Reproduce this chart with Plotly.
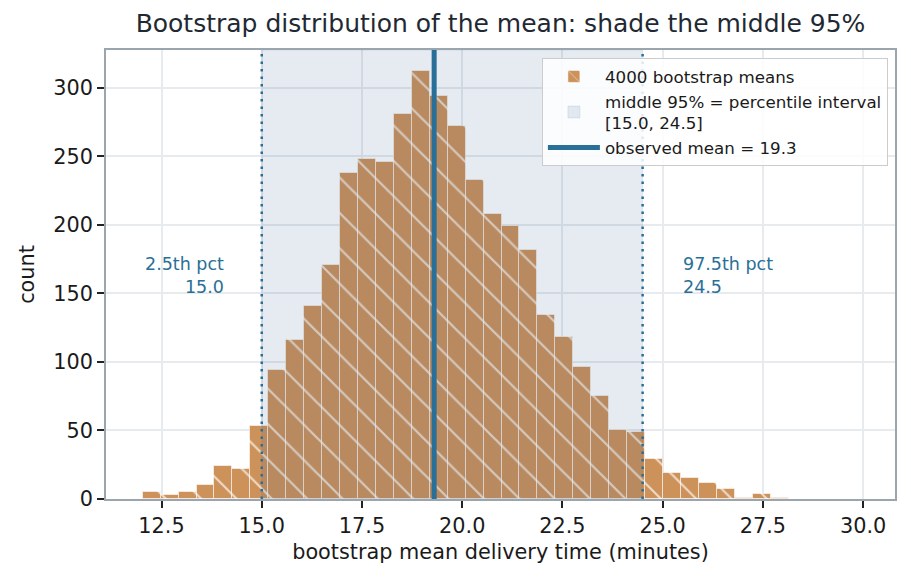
import plotly.graph_objects as go

# ---- data ----
bin_start = 12.03
bin_width = 0.4475
counts = [5, 3, 5, 10, 24, 22, 53, 94, 116, 141,
          171, 238, 248, 246, 281, 312, 294, 272, 233, 208,
          199, 182, 134, 118, 96, 75, 50, 49, 29, 19,
          15, 12, 7, 1, 4, 1, 0, 0, 0, 0]
ci_low = 15.0
ci_high = 24.5
observed_mean = 19.3
n_boot = 4000
x_ticks = [12.5, 15.0, 17.5, 20.0, 22.5, 25.0, 27.5, 30.0]
y_ticks = [0, 50, 100, 150, 200, 250, 300]

centers = [bin_start + bin_width * (i + 0.5) for i in range(len(counts))]

FONT = "DejaVu Sans"
BLUE = "#2a6f97"
ORANGE = "#cd915a"

fig = go.Figure()
fig.add_trace(go.Bar(
    x=centers, y=counts, width=[bin_width] * len(counts),
    name=f"{n_boot} bootstrap means",
    marker=dict(color=ORANGE,
                line=dict(color="rgba(255,255,255,0.55)", width=1),
                pattern=dict(shape="\\", fgcolor="white", fgopacity=0.65,
                             size=25, solidity=0.09)),
    legendrank=1,
))

x_lo, x_hi = 11.115, 30.795
y_top = max(counts) * 1.05

# shaded middle 95%
fig.add_shape(type="rect", xref="x", yref="y", x0=ci_low, x1=ci_high, y0=0, y1=y_top,
              fillcolor="rgba(40,90,140,0.12)", line=dict(width=1, color="rgba(40,90,140,0.10)"),
              layer="above", showlegend=True, legendrank=2,
              name=f"middle 95% = percentile interval<br>[{ci_low:.1f}, {ci_high:.1f}]")
# percentile lines
for v in (ci_low, ci_high):
    fig.add_shape(type="line", xref="x", yref="y", x0=v, x1=v, y0=0, y1=y_top,
                  line=dict(color=BLUE, width=2.5, dash="2.5px,5px"), layer="above")
# observed mean
fig.add_shape(type="line", xref="x", yref="y", x0=observed_mean, x1=observed_mean, y0=0, y1=y_top,
              line=dict(color=BLUE, width=5), layer="above",
              showlegend=True, legendrank=3, name=f"observed mean = {observed_mean:.1f}")

fig.add_annotation(x=ci_low, y=163, xref="x", yref="y", xanchor="right", yanchor="middle",
                   xshift=-36, text=f"2.5th pct<br>{ci_low:.1f}", showarrow=False, align="right",
                   font=dict(family=FONT, size=17.5, color=BLUE))
fig.add_annotation(x=ci_high, y=163, xref="x", yref="y", xanchor="left", yanchor="middle",
                   xshift=38, text=f"97.5th pct<br>{ci_high:.1f}", showarrow=False, align="left",
                   font=dict(family=FONT, size=17.5, color=BLUE))

axis_common = dict(
    showline=True, linecolor="#9ba5ae", linewidth=1.6, mirror=True,
    showgrid=True, gridcolor="#e8ebee", gridwidth=1.5,
    ticks="outside", ticklen=7, tickwidth=1.7, tickcolor="#222222",
    tickfont=dict(family=FONT, size=20.8, color="#1a1a1a"),
    zeroline=False,
)
fig.update_xaxes(range=[x_lo, x_hi], tickvals=x_ticks, tickformat=".1f",
                 title=dict(text="bootstrap mean delivery time (minutes)",
                            font=dict(family=FONT, size=20.8, color="#1a1a1a"), standoff=8),
                 **axis_common)
fig.update_yaxes(range=[0, y_top], tickvals=y_ticks,
                 title=dict(text="count", font=dict(family=FONT, size=20.8, color="#1a1a1a"), standoff=13),
                 **axis_common)

fig.update_layout(
    width=911, height=584,
    margin=dict(l=106, r=16, t=50, b=85),
    paper_bgcolor="white", plot_bgcolor="white",
    font=dict(family=FONT, color="#1a1a1a"),
    bargap=0,
    title=dict(text="Bootstrap distribution of the mean: shade the middle 95%",
               x=0.5, xref="paper", xanchor="center", y=1 - 23 / 584, yref="container",
               yanchor="middle", font=dict(family=FONT, size=25, color="#1f2933")),
    legend=dict(x=0.991, y=0.982, xanchor="right", yanchor="top",
                bgcolor="rgba(255,255,255,0.85)", bordercolor="#cccccc", borderwidth=1,
                font=dict(family=FONT, size=16.7, color="#1a1a1a"),
                itemwidth=52, tracegroupgap=2),
    showlegend=True,
)

fig.write_html("out.html")
